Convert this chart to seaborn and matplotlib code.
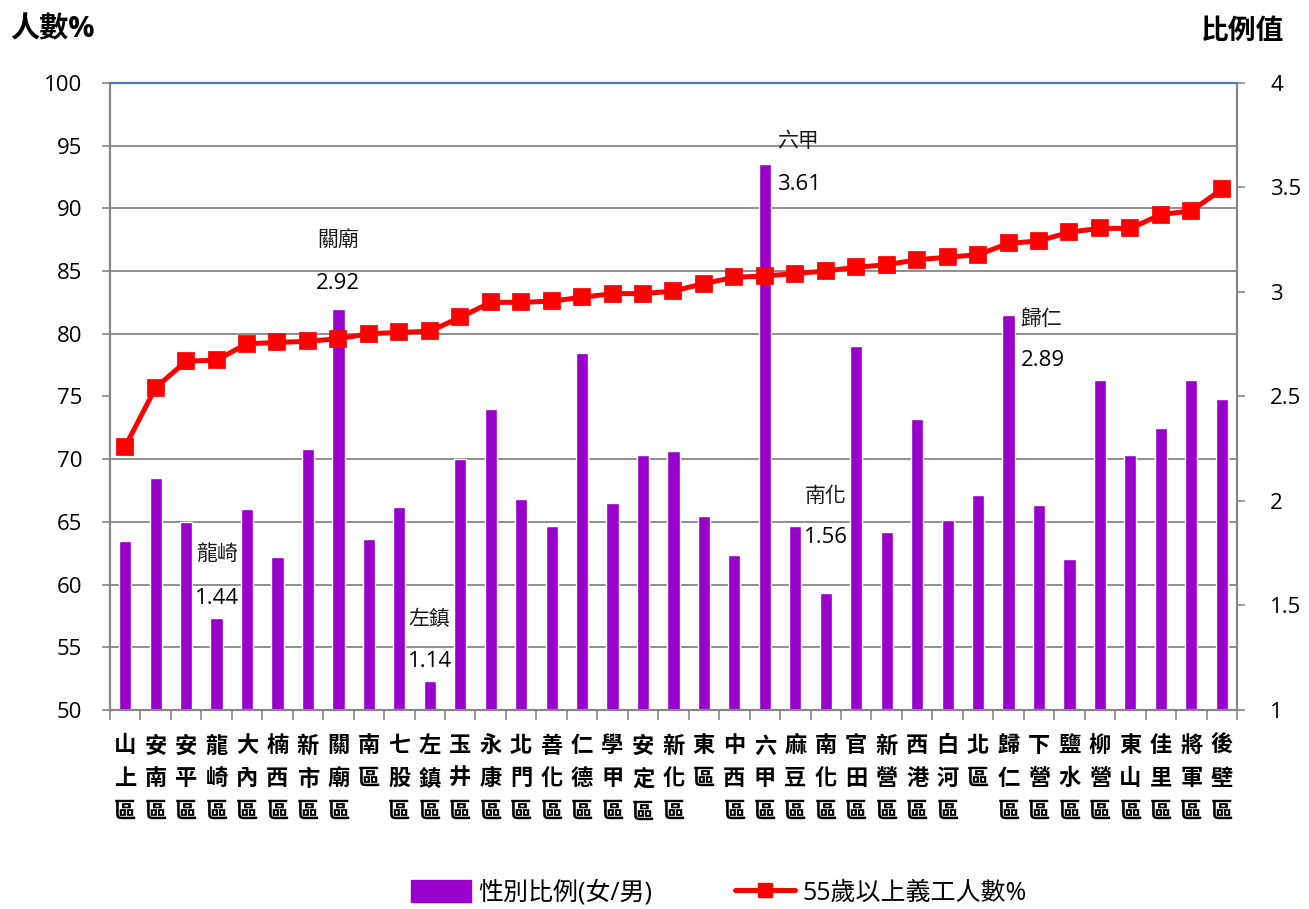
import numpy as np
import matplotlib
matplotlib.use('Agg')
import matplotlib.pyplot as plt
from matplotlib.ticker import MultipleLocator
from matplotlib.patches import Patch
from matplotlib.lines import Line2D
import seaborn as sns

# 各區資料
districts = ['山上區', '安南區', '安平區', '龍崎區', '大內區', '楠西區', '新市區', '關廟區', '南區',
             '七股區', '左鎮區', '玉井區', '永康區', '北門區', '善化區', '仁德區', '學甲區', '安定區',
             '新化區', '東區', '中西區', '六甲區', '麻豆區', '南化區', '官田區', '新營區', '西港區',
             '白河區', '北區', '歸仁區', '下營區', '鹽水區', '柳營區', '東山區', '佳里區', '將軍區', '後壁區']

# 性別比例(女/男) - 右軸
ratio = [1.81, 2.11, 1.90, 1.44, 1.96, 1.73, 2.25, 2.92, 1.82,
         1.97, 1.14, 2.20, 2.44, 2.01, 1.88, 2.71, 1.99, 2.22,
         2.24, 1.93, 1.74, 3.61, 1.88, 1.56, 2.74, 1.85, 2.39,
         1.91, 2.03, 2.89, 1.98, 1.72, 2.58, 2.22, 2.35, 2.58, 2.49]

# 55歲以上義工人數% - 左軸
pct = [71.0, 75.7, 77.8, 77.9, 79.2, 79.3, 79.4, 79.6, 80.0,
       80.1, 80.2, 81.3, 82.5, 82.5, 82.6, 82.9, 83.2, 83.2,
       83.4, 84.0, 84.5, 84.6, 84.8, 85.0, 85.3, 85.5, 85.9,
       86.1, 86.3, 87.2, 87.4, 88.1, 88.4, 88.4, 89.5, 89.8, 91.5]

# 標註的區 (水平位移px, 名稱高度px, 數值高度px, 對齊)
notes = {
    '龍崎區': (0, 63, 19, 'center'),
    '關廟區': (0, 67, 25, 'center'),
    '左鎮區': (0, 61, 19, 'center'),
    '六甲區': (12, 23, -20, 'left'),
    '南化區': (0, 96, 55, 'center'),
    '歸仁區': (12, -5, -46, 'left'),
}

purple = '#9900CC'
red = '#FF0000'
gray = '#868686'

sns.set_theme(style='white')
plt.rcParams['font.family'] = ['Open Sans', 'Noto Sans CJK TC', 'DejaVu Sans']
plt.rcParams['text.color'] = 'black'
plt.rcParams['xtick.color'] = 'black'
plt.rcParams['ytick.color'] = 'black'

fig = plt.figure(figsize=(13.09, 9.09), dpi=100)
ax = fig.add_axes([0.084, 0.219, 0.861, 0.6898])
ax2 = ax.twinx()
ax.set_zorder(ax2.get_zorder() + 1)
ax.patch.set_visible(False)

# bars on the right axis
sns.barplot(x=districts, y=ratio, color=purple, saturation=1, width=0.4, ax=ax2)
ax2.set_ylim(1, 4)
ax2.set_yticks(np.arange(1, 4.01, 0.5))
ax2.set_yticklabels(['1', '1.5', '2', '2.5', '3', '3.5', '4'], fontsize=16)
ax2.yaxis.set_minor_locator(MultipleLocator(0.3, offset=1.0))
ax2.grid(False)
ax2.grid(True, which='minor', axis='y', color=gray, linewidth=1.3)
ax2.set_axisbelow(True)
ax2.tick_params(axis='y', which='minor', length=0)
ax2.tick_params(axis='y', which='major', right=True, direction='out', length=6, width=1.2,
                color=gray, labelcolor='black', pad=18)
ax2.set_ylabel('')

# line on the left axis
sns.pointplot(x=districts, y=pct, color=red, markers='s', errorbar=None,
              markersize=10, linewidth=3.6, ax=ax)
ax.set_ylim(50, 100)
ax.set_yticks(np.arange(50, 101, 5))
ax.tick_params(axis='y', left=True, direction='out', length=6, width=1.2, color=gray,
               labelcolor='black', labelsize=16, pad=14)
ax.set_ylabel('')

ax.set_xlim(-0.5, len(districts) - 0.5)
ax.set_xticks(range(len(districts)))
ax.set_xticklabels(['\n'.join(d) for d in districts], fontsize=16, fontweight='bold',
                   linespacing=1.72, va='top', color='black')
ax.set_xticks(np.arange(-0.5, len(districts), 1), minor=True)
ax.tick_params(axis='x', which='major', length=0, pad=19)
ax.tick_params(axis='x', which='minor', bottom=True, direction='out', length=7, width=1.2, color=gray)
ax.set_xlabel('')

for a in (ax, ax2):
    for s in ('left', 'right', 'bottom'):
        a.spines[s].set_color(gray)
        a.spines[s].set_linewidth(1.5)
    a.spines['top'].set_color('#4A7EBB')
    a.spines['top'].set_linewidth(1.5)

# 標註
for name, (dx, dy_name, dy_val, ha) in notes.items():
    i = districts.index(name)
    v = ratio[i]
    ax2.annotate(name[:2], (i, v), xytext=(dx, dy_name), textcoords='offset pixels',
                 ha=ha, va='center', fontsize=15, color='#1a1a1a')
    ax2.annotate(f'{v:.2f}', (i, v), xytext=(dx, dy_val), textcoords='offset pixels',
                 ha=ha, va='center', fontsize=16, color='black')

fig.text(0.008, 0.967, '人數%', fontsize=21, fontweight='bold', ha='left', va='center')
fig.text(0.981, 0.965, '比例值', fontsize=20, fontweight='bold', ha='right', va='center')

handles = [Patch(color=purple),
           Line2D([], [], color=red, marker='s', linewidth=3.6, markersize=10)]
fig.legend(handles, ['性別比例(女/男)', '55歲以上義工人數%'], loc='center',
           bbox_to_anchor=(0.549, 0.018), ncol=2, frameon=False, fontsize=18,
           handlelength=2.4, handleheight=1.0, handletextpad=0.3, columnspacing=3.3)

fig.savefig('out.png', dpi=100)
